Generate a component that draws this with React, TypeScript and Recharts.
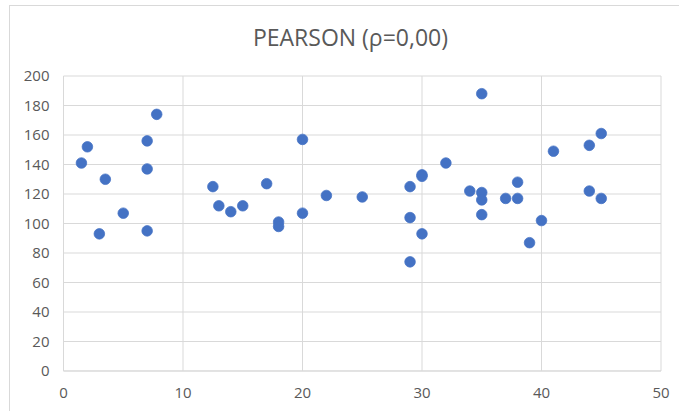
import {
  ScatterChart,
  Scatter,
  XAxis,
  YAxis,
  CartesianGrid,
} from "recharts";

// values
const xValues = [
  1.5, 2, 3.5, 3, 5, 7, 7, 7, 7.8, 12.5, 13, 14, 15, 17, 18, 18, 20, 20, 22,
  25, 29, 30, 30, 29, 30, 29, 32, 35, 34, 35, 35, 35, 37, 38, 38, 39, 40, 41,
  44, 45, 44, 45,
];
const yValues = [
  141, 152, 130, 93, 107, 156, 137, 95, 174, 125, 112, 108, 112, 127, 101, 98,
  157, 107, 119, 118, 125, 133, 132, 104, 93, 74, 141, 188, 122, 121, 116, 106,
  117, 117, 128, 87, 102, 149, 153, 161, 122, 117,
];
const xTicks = [0, 10, 20, 30, 40, 50];
const yTicks = [0, 20, 40, 60, 80, 100, 120, 140, 160, 180, 200];

const points = xValues.map((x, i) => ({ x, y: yValues[i] }));

const GRID = "#d9d9d9";
const TEXT = "#595959";
const FONT = "'Open Sans', sans-serif";

const Dot = (props: any) => {
  const { cx, cy } = props;
  return <circle cx={cx} cy={cy} r={5.3} fill="#4472c4" stroke="#4472c4" strokeWidth={0.75} />;
};

const App = () => {
  return (
    <div
      style={{
        position: "absolute",
        left: 0,
        top: 0,
        width: 679,
        height: 411,
        overflow: "hidden",
        background: "#fff",
      }}
    >
      <div
        style={{
          position: "absolute",
          left: 9,
          top: 5,
          width: 720,
          height: 440,
          border: `1.5px solid ${GRID}`,
        }}
      />
      <div
        style={{
          position: "absolute",
          left: 0,
          width: 701,
          top: 25.5,
          textAlign: "center",
          fontFamily: FONT,
          fontSize: 23,
          lineHeight: 1,
          color: TEXT,
        }}
      >
        PEARSON (ρ=0,00)
      </div>
      <div style={{ position: "absolute", left: 0, top: 0 }}>
        <ScatterChart
          width={679}
          height={411}
          margin={{ top: 76, right: 18, bottom: 10, left: 13.5 }}
        >
          <CartesianGrid stroke={GRID} strokeWidth={1} />
          <XAxis
            type="number"
            dataKey="x"
            domain={[0, 50]}
            ticks={xTicks}
            height={30}
            tickLine={false}
            axisLine={{ stroke: GRID }}
            tickMargin={10}
            tick={{ fill: TEXT, fontSize: 15, fontFamily: FONT }}
          />
          <YAxis
            type="number"
            dataKey="y"
            domain={[0, 200]}
            ticks={yTicks}
            width={50}
            tickLine={false}
            axisLine={{ stroke: GRID }}
            tickMargin={8}
            tick={{ fill: TEXT, fontSize: 15, fontFamily: FONT }}
          />
          <Scatter data={points} shape={<Dot />} isAnimationActive={false} />
        </ScatterChart>
      </div>
    </div>
  );
};

export default App;
